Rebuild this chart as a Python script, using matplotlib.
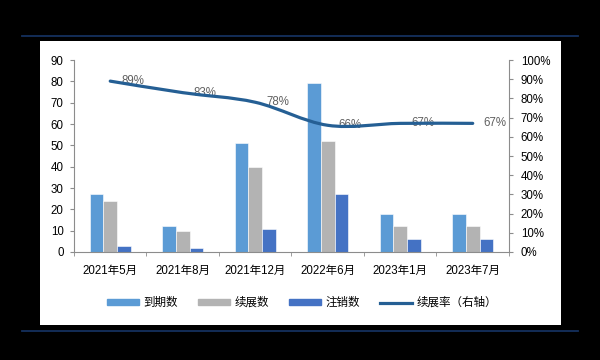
import numpy as np
import matplotlib.pyplot as plt
from matplotlib.path import Path
import matplotlib.patches as patches
from matplotlib.lines import Line2D
from matplotlib.ticker import FixedLocator, PercentFormatter

plt.rcParams['font.family'] = ['Liberation Sans', 'Noto Sans CJK SC', 'DejaVu Sans']

# データ
categories = ['2021年5月', '2021年8月', '2021年12月', '2022年6月', '2023年1月', '2023年7月']
due = [27, 12, 51, 79, 18, 18]          # 到期数
renewed = [24, 10, 40, 52, 12, 12]      # 续展数
cancelled = [3, 2, 11, 27, 6, 6]        # 注销数
rate = [89, 83, 78, 66, 67, 67]         # 续展率 (%)

FS = 8.3
C_DUE = '#5B9BD5'
C_REN = '#B3B3B3'
C_CAN = '#4472C4'
C_LINE = '#255F94'
C_SPINE = '#8C8C8C'

fig = plt.figure(figsize=(6, 3.6), dpi=100, facecolor='black')

# 白い背景と上下の線
fig.add_artist(patches.Rectangle((0.0667, 0.0972), 0.868, 0.789,
                                 transform=fig.transFigure, facecolor='white',
                                 edgecolor='none', zorder=-10))
for yy in (0.9, 0.0806):
    fig.add_artist(Line2D([0.037, 0.963], [yy, yy], transform=fig.transFigure,
                          color='#14305E', lw=1.3, zorder=-10))

ax = fig.add_axes([0.1233, 0.3, 0.725, 0.5333])
ax.set_facecolor('none')
x = np.arange(len(categories))
w = 0.19
ax.bar(x - w, due, w, color=C_DUE, edgecolor='white', lw=0.4, label='到期数')
ax.bar(x, renewed, w, color=C_REN, edgecolor='white', lw=0.4, label='续展数')
ax.bar(x + w, cancelled, w, color=C_CAN, edgecolor='white', lw=0.4, label='注销数')

ax.set_xlim(-0.5, len(categories) - 0.5)
ax.set_ylim(0, 90)
ax.set_yticks(range(0, 91, 10))
ax.set_xticks(x)
ax.set_xticklabels(categories, fontsize=FS)
ax.xaxis.set_minor_locator(FixedLocator(np.arange(-0.5, len(categories), 1)))
ax.tick_params(axis='x', which='major', length=0, pad=9)
ax.tick_params(axis='x', which='minor', length=3, color=C_SPINE, direction='out')
ax.tick_params(axis='y', length=3, color=C_SPINE, labelsize=FS, pad=4.5)
for s in ('top', 'right'):
    ax.spines[s].set_visible(False)
for s in ('left', 'bottom'):
    ax.spines[s].set_color(C_SPINE)
    ax.spines[s].set_linewidth(0.8)

# 右軸: 続展率 (平滑線)
ax2 = ax.twinx()
ax2.set_ylim(0, 100)
ax2.set_yticks(range(0, 101, 10))
ax2.yaxis.set_major_formatter(PercentFormatter(decimals=0))
ax2.tick_params(axis='y', length=3, color=C_SPINE, labelsize=FS, pad=5.5)
for s in ('top', 'left', 'bottom'):
    ax2.spines[s].set_visible(False)
ax2.spines['right'].set_color(C_SPINE)
ax2.spines['right'].set_linewidth(0.8)

# ラベル (線の下に描く)
for xi, r in zip(x, rate):
    ax2.annotate(f'{r}%', (xi, r), xytext=(8, 0), textcoords='offset points',
                 ha='left', va='center', fontsize=FS, color='#606060', zorder=2)

pts = np.column_stack([x, rate]).astype(float)
verts = [tuple(pts[0])]
codes = [Path.MOVETO]
n = len(pts)
for i in range(n - 1):
    p0 = pts[max(i - 1, 0)]
    p1 = pts[i]
    p2 = pts[i + 1]
    p3 = pts[min(i + 2, n - 1)]
    c1 = p1 + (p2 - p0) / 6
    c2 = p2 - (p3 - p1) / 6
    verts += [tuple(c1), tuple(c2), tuple(p2)]
    codes += [Path.CURVE4] * 3
ax2.add_patch(patches.PathPatch(Path(verts, codes), facecolor='none',
                                edgecolor=C_LINE, lw=2.3, capstyle='round', zorder=5))

# 凡例
handles = [patches.Patch(color=C_DUE), patches.Patch(color=C_REN),
           patches.Patch(color=C_CAN), Line2D([], [], color=C_LINE, lw=2.3)]
labels = ['到期数', '续展数', '注销数', '续展率（右轴）']
fig.legend(handles, labels, loc='center', bbox_to_anchor=(0.503, 0.158), ncol=4,
           frameon=False, fontsize=FS, handlelength=2.8, handleheight=0.3,
           handletextpad=0.35, columnspacing=1.75)

fig.savefig('out.png', dpi=100, facecolor='black')
